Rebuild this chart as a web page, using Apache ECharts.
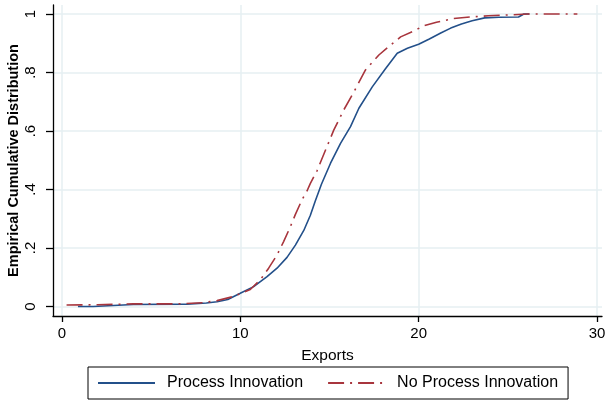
<!DOCTYPE html>
<html>
<head>
<meta charset="utf-8">
<script src="https://cdn.jsdelivr.net/npm/echarts@6/dist/echarts.min.js"></script>
<style>
html,body{margin:0;padding:0;background:#fff;}
#c{width:605px;height:401px;}
</style>
</head>
<body>
<div id="c"></div>
<script>
// Series names
const seriesNames = ['Process Innovation', 'No Process Innovation'];
// Process Innovation (blue, solid)
const procX = [0.9, 1.75, 1.8, 4.0, 7.0, 8.1, 8.7, 9.3, 10.0, 10.75, 11.5, 12.06, 12.62, 13.09, 13.56, 13.93, 14.2, 14.55, 15.06, 15.62, 16.18, 16.65, 17.4, 18.15, 18.8, 19.37, 20.0, 20.6, 21.24, 21.8, 22.4, 23.0, 23.7, 24.5, 25.6, 25.9, 26.2];
const procY = [0, 0, 0.005, 0.007, 0.008, 0.012, 0.016, 0.024, 0.045, 0.068, 0.102, 0.131, 0.168, 0.210, 0.260, 0.312, 0.360, 0.418, 0.490, 0.558, 0.615, 0.678, 0.751, 0.814, 0.866, 0.883, 0.897, 0.915, 0.935, 0.952, 0.966, 0.977, 0.987, 0.989, 0.990, 1.0, 1.0];
// No Process Innovation (red, dash-dot)
const noProcX = [0.26, 2.0, 4.0, 6.45, 7.9, 8.7, 9.6, 10.56, 11.12, 11.59, 12.06, 12.43, 12.81, 13.09, 13.46, 13.74, 13.93, 14.31, 14.78, 15.24, 15.80, 16.37, 17.02, 17.77, 18.43, 18.99, 19.65, 20.3, 21.0, 21.97, 22.9, 23.9, 25.0, 26.1, 27.5, 28.9];
const noProcY = [0.005, 0.006, 0.009, 0.009, 0.013, 0.02, 0.034, 0.058, 0.091, 0.131, 0.176, 0.222, 0.273, 0.315, 0.365, 0.395, 0.421, 0.465, 0.535, 0.603, 0.672, 0.734, 0.809, 0.860, 0.894, 0.922, 0.940, 0.960, 0.972, 0.985, 0.990, 0.994, 0.997, 1.0, 1.0, 1.0];
// Ticks
const xTicks = [0, 10, 20, 30];
const yTicks = [0, 0.2, 0.4, 0.6, 0.8, 1];
const yTickLabels = ['0', '.2', '.4', '.6', '.8', '1'];
const xTitle = 'Exports';
const yTitle = 'Empirical Cumulative Distribution';

const zip = (xs, ys) => xs.map((x, i) => [x, ys[i]]);
const FONT = "'Liberation Sans', Arial, sans-serif";
const gridColor = '#e6eff2';

const chart = echarts.init(document.getElementById('c'));
chart.setOption({
  animation: false,
  backgroundColor: '#fff',
  grid: { left: 53, right: 3, top: 5, bottom: 85, containLabel: false, outerBoundsMode: 'none' },
  xAxis: {
    type: 'value', min: -0.5, max: 30.28,
    name: xTitle, nameLocation: 'middle', nameGap: 32, nameMoveOverlap: false,
    nameTextStyle: { fontFamily: FONT, fontSize: 15.5, color: '#000' },
    axisLine: { show: true, onZero: false, lineStyle: { color: '#000', width: 1.3 } },
    axisTick: { show: true, customValues: xTicks, length: 6, lineStyle: { color: '#000', width: 1.3 } },
    axisLabel: { customValues: xTicks, margin: 10, fontFamily: FONT, fontSize: 15, color: '#000' },
    splitLine: { show: true, lineStyle: { color: gridColor, width: 1.5 } }
  },
  yAxis: {
    type: 'value', min: -0.0325, max: 1.031,
    name: yTitle, nameLocation: 'middle', nameGap: 32, nameMoveOverlap: false,
    nameTextStyle: { fontFamily: FONT, fontSize: 14.5, fontWeight: 'bold', color: '#000' },
    axisLine: { show: true, onZero: false, lineStyle: { color: '#000', width: 1.3 } },
    axisTick: { show: true, customValues: yTicks, length: 7, lineStyle: { color: '#000', width: 1.3 } },
    axisLabel: {
      customValues: yTicks, rotate: 90, margin: 15, fontFamily: FONT, fontSize: 15, color: '#000',
      formatter: v => { const i = yTicks.findIndex(t => Math.abs(t - v) < 1e-6); return i >= 0 ? yTickLabels[i] : ''; }
    },
    splitLine: { show: true, lineStyle: { color: gridColor, width: 1.5 } }
  },
  legend: {
    left: 88, top: 367, orient: 'horizontal',
    itemWidth: 57, itemHeight: 14, itemGap: 24,
    padding: [8, 10, 8, 9],
    borderColor: '#000', borderWidth: 1,
    itemStyle: { opacity: 0 },
    textStyle: { fontFamily: FONT, fontSize: 16, color: '#000', padding: [0, 0, 0, 7] },
    data: seriesNames
  },
  series: [
    {
      name: seriesNames[0], type: 'line', data: zip(procX, procY),
      showSymbol: false, symbol: 'none',
      lineStyle: { color: '#23508a', width: 1.6 }, itemStyle: { color: '#23508a' }
    },
    {
      name: seriesNames[1], type: 'line', data: zip(noProcX, noProcY),
      showSymbol: false, symbol: 'none',
      lineStyle: { color: '#a8353d', width: 1.6, type: [16, 6, 2, 6] }, itemStyle: { color: '#a8353d' }
    }
  ]
});
</script>
</body>
</html>
